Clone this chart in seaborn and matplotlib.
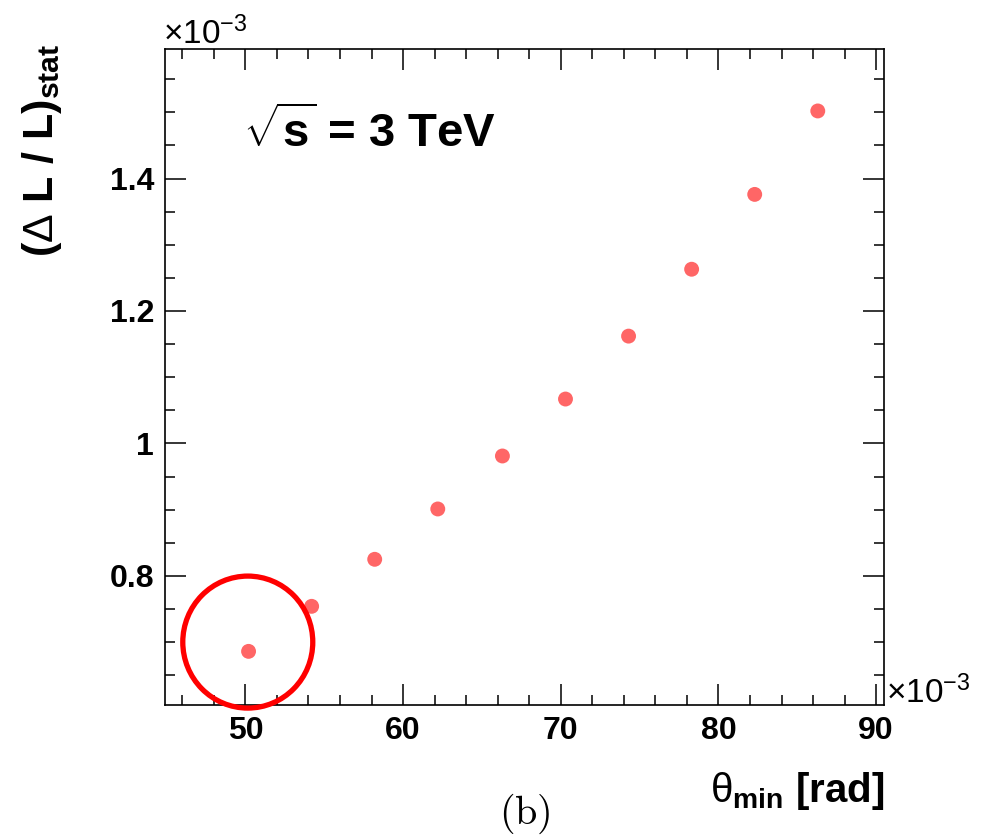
import matplotlib
matplotlib.use("Agg")
import matplotlib.pyplot as plt
from matplotlib.patches import Ellipse
from matplotlib.ticker import MultipleLocator
import seaborn as sns
import pandas as pd

# Data (values in units of 1e-3)
theta_min = [50.2, 54.2, 58.2, 62.2, 66.3, 70.3, 74.3, 78.3, 82.3, 86.3]
dl_stat = [0.686, 0.754, 0.825, 0.901, 0.981, 1.067, 1.162, 1.263, 1.376, 1.502]
x_ticks = [50, 60, 70, 80, 90]
y_ticks = [0.8, 1.0, 1.2, 1.4]
y_tick_labels = ["0.8", "1", "1.2", "1.4"]

df = pd.DataFrame({"theta": theta_min, "dl": dl_stat})

sns.set_theme(style="white")
plt.rcParams["font.family"] = ["Liberation Sans", "DejaVu Sans"]
plt.rcParams["mathtext.fontset"] = "custom"
plt.rcParams["mathtext.rm"] = "Liberation Sans"
plt.rcParams["mathtext.bf"] = "Liberation Sans:bold"
plt.rcParams["mathtext.it"] = "Liberation Sans:italic"
plt.rcParams["text.color"] = "black"
plt.rcParams["xtick.color"] = "black"
plt.rcParams["ytick.color"] = "black"
plt.rcParams["xtick.labelcolor"] = "black"
plt.rcParams["ytick.labelcolor"] = "black"

W, H = 989, 839
fig = plt.figure(figsize=(W / 100, H / 100), dpi=100)
ax = fig.add_axes([165 / W, 1 - 705 / H, (884 - 165) / W, (705 - 48.7) / H])

sns.scatterplot(data=df, x="theta", y="dl", ax=ax, color="#ff6666",
                s=115, edgecolor="none", legend=False, zorder=3)

ax.set_xlim(44.9, 90.5)
ax.set_ylim(0.605, 1.596)
ax.set_xticks(x_ticks)
ax.set_xticklabels([str(t) for t in x_ticks])
ax.set_yticks(y_ticks)
ax.set_yticklabels(y_tick_labels)
ax.xaxis.set_minor_locator(MultipleLocator(2))
ax.yaxis.set_minor_locator(MultipleLocator(0.05))
ax.set_xlabel("")
ax.set_ylabel("")

for sp in ax.spines.values():
    sp.set_visible(True)
    sp.set_color("black")
    sp.set_linewidth(1.2)

ax.tick_params(which="both", direction="in", top=True, right=True,
               bottom=True, left=True, color="black", width=1.1)
ax.tick_params(which="major", length=15, labelsize=23, pad=8)
ax.tick_params(which="minor", length=7.5)
for lab in ax.get_xticklabels() + ax.get_yticklabels():
    lab.set_fontweight("bold")
    lab.set_color("black")

# red circle annotation
circ = Ellipse((50.15, 0.700), width=2 * 65 / 15.77, height=2 * 66 / 662.3,
               fill=False, edgecolor="#ff0000", linewidth=3.8, clip_on=False,
               zorder=4)
ax.add_patch(circ)

# multiplier labels
fig.text(163 / W, 1 - 44 / H, r"$\times$10$^{-3}$", fontsize=24,
         ha="left", va="baseline")
fig.text(886 / W, 1 - 703 / H, r"$\times$10$^{-3}$", fontsize=24,
         ha="left", va="baseline")

# energy label
fig.text(243 / W, 1 - 148 / H, r"$\sqrt{\mathbf{s}}$ = 3 TeV", fontsize=34,
         fontweight="bold", ha="left", va="baseline")

# y label
fig.text(64 / W, 1 - 44 / H, r"($\mathrm{\Delta}$ L / L)$_{\mathbf{stat}}$",
         fontsize=31, fontweight="bold", rotation=90, ha="right", va="top")

# x label
fig.text(884 / W, 1 - 802 / H, r"$\mathrm{\theta}_{\mathbf{min}}$ [rad]",
         fontsize=29, fontweight="bold", ha="right", va="baseline")

# panel label
fig.text(525 / W, 1 - 824 / H, r"$\mathrm{(b)}$", fontsize=29, ha="center",
         va="baseline", math_fontfamily="cm")

fig.savefig("out.png", dpi=100)
